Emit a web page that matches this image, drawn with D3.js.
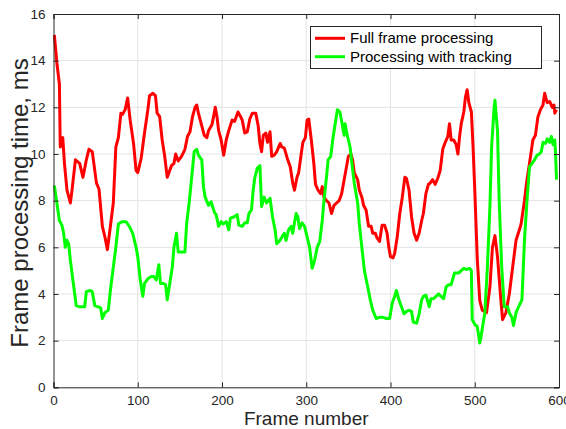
<!DOCTYPE html>
<html>
<head>
<meta charset="utf-8">
<script src="https://cdn.jsdelivr.net/npm/d3@7"></script>
<style>
  body { margin: 0; background: #fff; }
  svg { display: block; font-family: "Liberation Sans", Arial, sans-serif; }
</style>
</head>
<body>
<svg id="chart" width="566" height="429"></svg>
<script>
// values
const redFrames = [1,4,7,8,11,13,16,20,22,26,31,35,39,42,46,51,54,58,61,64,67,71,74,77,80,82,85,88,91,95,98,100,
  104,108,112,114,118,121,123,126,129,132,135,137,140,143,145,148,152,156,159,162,165,168,170,172,176,179,182,184,188,190,192,194,196,199,
  202,205,208,212,215,219,222,224,227,230,233,236,240,243,245,247,249,252,254,257,259,262,265,269,271,274,278,281,284,286,289,291,294,296,299,
  301,303,306,309,311,314,317,319,321,324,327,330,333,336,339,342,345,348,350,353,355,357,361,363,366,368,371,374,377,379,382,384,387,390,393,396,398,
  400,403,405,408,411,414,417,419,422,425,428,431,434,437,439,442,445,447,450,453,456,459,462,465,468,470,472,475,478,480,482,484,487,489,491,493,496,498,
  500,503,506,509,514,518,521,524,527,531,533,537,541,545,549,553,555,559,562,565,569,572,575,578,581,583,586,589,592,594,595,597];
const redTimes = [15.1,13.9,13.0,10.3,10.7,9.6,8.45,7.9,8.45,9.75,9.6,9.0,9.75,10.2,10.1,8.75,8.5,6.9,6.45,5.9,6.75,7.9,10.3,10.7,11.75,11.7,11.9,12.4,11.45,10.45,9.3,9.2,
  9.8,10.9,11.9,12.5,12.6,12.5,11.75,11.6,10.6,9.9,9.0,9.2,9.5,9.6,10.0,9.7,9.9,10.2,10.75,10.95,11.6,12.0,12.1,11.75,11.2,10.8,10.7,11.0,11.25,11.6,12.0,11.6,11.0,10.6,
  9.95,10.6,11.0,11.45,11.4,11.8,11.6,11.45,10.9,10.95,11.5,11.75,11.75,11.2,10.45,10.1,10.8,10.9,10.5,10.95,9.9,9.95,10.1,10.45,10.3,10.25,9.75,9.45,8.75,8.45,9.0,9.2,10.0,10.5,10.7,
  11.45,11.5,10.6,9.6,8.7,8.45,8.3,8.6,8.15,8.0,7.9,7.45,7.8,7.9,8.0,8.3,8.9,9.5,9.9,10.0,9.75,9.2,8.9,8.45,8.15,7.8,7.6,6.9,6.9,6.6,6.6,6.4,6.25,6.95,6.95,6.6,6.0,
  5.6,5.55,5.75,6.45,7.45,8.15,9.0,8.95,8.45,7.3,6.6,6.3,6.6,7.15,7.45,8.3,8.7,8.75,8.9,8.7,8.95,9.3,10.2,10.5,10.75,11.3,10.6,10.6,10.4,10.0,10.75,11.3,11.8,12.45,12.75,12.2,11.8,10.3,
  8.5,5.5,3.7,3.3,3.2,4.3,6.0,6.5,5.6,3.75,2.9,3.2,4.0,5.15,6.3,6.75,7.0,8.0,8.9,9.6,10.6,10.8,11.6,11.9,12.1,12.6,12.2,12.25,12.0,12.1,11.75,11.9];

const greenFrames = [1,4,7,10,12,14,16,18,20,23,27,31,35,37,39,43,46,49,53,56,58,61,65,68,71,74,77,81,86,90,94,98,
  100,103,106,108,112,116,119,122,125,127,130,133,135,138,141,143,146,148,152,156,158,161,164,167,170,172,176,178,180,184,187,191,193,196,199,
  201,205,208,210,214,218,220,224,227,230,232,235,237,239,242,245,247,250,253,257,260,263,265,269,272,274,276,279,282,284,286,288,290,292,295,298,
  301,304,307,310,313,316,319,321,324,326,329,332,335,337,340,342,345,346,349,352,354,357,361,363,366,369,373,376,379,383,387,391,395,399,
  402,405,407,410,413,416,419,422,425,427,431,434,437,439,442,446,448,451,454,457,460,463,466,469,472,476,481,484,487,490,494,496,497,
  500,503,506,508,512,515,518,520,523,524,527,529,532,535,539,541,544,546,549,552,556,559,562,565,568,571,574,577,579,581,584,586,589,591,593,595,596,597];
const greenTimes = [8.65,7.9,7.15,6.95,6.6,6.0,6.3,6.15,5.45,4.6,3.5,3.45,3.45,3.45,4.1,4.15,4.1,3.5,3.45,3.4,2.95,3.2,3.3,4.3,5.15,6.0,7.0,7.1,7.1,6.9,6.6,6.0,
  5.6,4.6,3.9,4.45,4.65,4.75,4.75,4.6,5.25,4.45,4.45,4.4,3.75,4.45,5.15,6.0,6.6,5.8,5.8,5.8,7.0,7.9,9.0,10.1,10.2,9.95,9.75,8.6,8.15,7.8,7.95,7.5,7.4,6.9,7.1,
  7.0,7.1,6.75,7.25,7.3,7.4,6.95,6.9,7.05,7.05,7.45,7.6,8.45,9.0,9.4,9.5,7.75,8.15,7.9,8.1,7.3,6.75,6.15,6.3,6.5,6.6,6.3,6.75,6.9,6.6,7.05,7.45,7.3,6.8,7.05,6.9,
  6.45,6.0,5.1,5.45,6.0,6.25,7.15,8.0,9.0,9.75,9.9,10.75,11.45,11.9,11.8,11.4,10.8,11.3,10.75,10.3,9.65,8.75,7.9,7.0,6.0,5.0,4.3,3.75,3.3,2.95,3.0,3.0,2.95,2.95,
  3.6,3.9,4.15,3.75,3.45,3.15,3.25,3.3,3.25,2.8,2.75,3.15,3.75,3.9,3.95,3.45,3.8,3.8,3.9,4.0,3.9,3.8,4.3,4.4,4.4,4.9,4.9,5.0,5.1,5.05,5.1,5.0,2.9,
  2.7,2.6,1.9,2.3,3.2,5.15,7.75,10.3,12.0,12.3,11.0,8.0,5.15,3.45,3.45,3.2,3.0,2.65,3.2,3.45,3.75,6.3,8.0,9.45,9.6,9.75,9.95,10.0,10.1,10.5,10.45,10.65,10.5,10.75,10.4,10.6,9.95,8.9];

const xTicks = [0, 100, 200, 300, 400, 500, 600];
const yTicks = [0, 2, 4, 6, 8, 10, 12, 14, 16];
const seriesNames = ['Full frame processing', 'Processing with tracking'];
const seriesColors = ['#ff0000', '#00ff00'];

const svg = d3.select('#chart');
const plotLeft = 53.5, plotRight = 559, plotTop = 14, plotBottom = 387.3;

const x = d3.scaleLinear().domain([0, 600]).range([plotLeft, plotRight]);
const y = d3.scaleLinear().domain([0, 16]).range([plotBottom, plotTop]);
const axisColor = '#262626';

// grid
svg.append('g').selectAll('line').data(xTicks.slice(1, -1)).join('line')
  .attr('x1', d => x(d)).attr('x2', d => x(d))
  .attr('y1', plotTop).attr('y2', plotBottom)
  .attr('stroke', '#e3e3e3').attr('stroke-width', 1);
svg.append('g').selectAll('line').data(yTicks.slice(1, -1)).join('line')
  .attr('x1', plotLeft).attr('x2', plotRight)
  .attr('y1', d => y(d)).attr('y2', d => y(d))
  .attr('stroke', '#e3e3e3').attr('stroke-width', 1);

// lines
const line = d3.line().x(d => x(d[0])).y(d => y(d[1]));
const redData = d3.zip(redFrames, redTimes);
const greenData = d3.zip(greenFrames, greenTimes);
[redData, greenData].forEach((data, i) => {
  svg.append('path').datum(data)
    .attr('d', line)
    .attr('fill', 'none')
    .attr('stroke', seriesColors[i])
    .attr('stroke-width', 3)
    .attr('stroke-linejoin', 'round');
});

// axes (ticks pointing in, box on)
const tickLen = 5;
const fmt = d3.format('d');
svg.append('g').attr('transform', `translate(0,${plotBottom})`)
  .call(d3.axisBottom(x).tickValues(xTicks).tickSize(-tickLen).tickPadding(8).tickFormat(fmt))
  .call(g => g.selectAll('text').attr('font-size', 13.5).attr('fill', axisColor));
svg.append('g').attr('transform', `translate(0,${plotTop})`)
  .call(d3.axisTop(x).tickValues(xTicks).tickSize(-tickLen).tickFormat(''));
svg.append('g').attr('transform', `translate(${plotLeft},0)`)
  .call(d3.axisLeft(y).tickValues(yTicks).tickSize(-tickLen).tickPadding(8).tickFormat(fmt))
  .call(g => g.selectAll('text').attr('font-size', 13.5).attr('fill', axisColor));
svg.append('g').attr('transform', `translate(${plotRight},0)`)
  .call(d3.axisRight(y).tickValues(yTicks).tickSize(-tickLen).tickFormat(''));
svg.selectAll('.domain, .tick line').attr('stroke', axisColor);
svg.selectAll('g[font-family]').attr('font-family', null).attr('font-size', null);

// axis labels
svg.append('text')
  .attr('x', (plotLeft + plotRight) / 2).attr('y', 425)
  .attr('text-anchor', 'middle').attr('font-size', 19).attr('fill', axisColor)
  .text('Frame number');
svg.append('text')
  .attr('transform', 'translate(28,203) rotate(-90)')
  .attr('text-anchor', 'middle').attr('font-size', 24).attr('fill', axisColor)
  .text('Frame processing time, ms');

// legend
const legend = svg.append('g');
legend.append('rect')
  .attr('x', 310.5).attr('y', 26.5).attr('width', 231).attr('height', 42)
  .attr('fill', '#fff').attr('stroke', axisColor).attr('stroke-width', 1);
seriesNames.forEach((name, i) => {
  const ly = 38.3 + i * 18.4;
  legend.append('line')
    .attr('x1', 315).attr('x2', 345).attr('y1', ly).attr('y2', ly)
    .attr('stroke', seriesColors[i]).attr('stroke-width', 3);
  legend.append('text')
    .attr('x', 350).attr('y', ly + 5)
    .attr('font-size', 15).attr('fill', '#000')
    .text(name);
});
</script>
</body>
</html>
